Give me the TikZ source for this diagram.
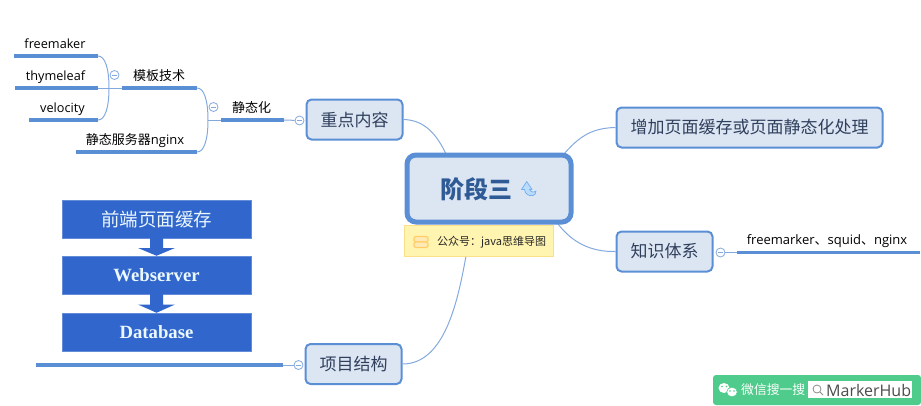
\documentclass[tikz,border=0pt]{standalone}
\usepackage{fontspec}
\setmainfont{Open Sans}
\newfontfamily\cjk{Noto Sans CJK SC}
\newfontfamily\serifb{Liberation Serif}
\definecolor{mmblue}{HTML}{5A8FD6}
\definecolor{mmfill}{HTML}{DCE5F2}
\definecolor{mmtext}{HTML}{2F3F5C}
\definecolor{mmtitle}{HTML}{2E5A96}
\definecolor{thinblue}{HTML}{84A9DE}
\definecolor{stackblue}{HTML}{3166CC}
\definecolor{notefill}{HTML}{FFF4B0}
\definecolor{noteline}{HTML}{FBE08A}
\definecolor{noteicon}{HTML}{FFCF66}
\definecolor{noteiconfill}{HTML}{FFE9B5}
\definecolor{greenbar}{HTML}{4FCB8B}
\definecolor{iconfill}{HTML}{BBDBFB}
\definecolor{iconline}{HTML}{6FAEF0}
\tikzset{
  x=1pt,y=-1pt,
  topic/.style={draw=mmblue,line width=2pt,fill=mmfill,rounded corners=5pt,text=mmtext,font=\cjk\fontsize{17}{19}\selectfont,inner sep=0pt,anchor=center},
  central/.style={draw=mmblue,line width=5pt,fill=mmfill,rounded corners=9pt,inner sep=0pt},
  thick line/.style={draw=mmblue,line width=3.1pt},
  thin line/.style={draw=thinblue,line width=1pt},
  label text/.style={font=\fontsize{12.7}{14}\selectfont,text=black,inner sep=0pt,anchor=base},
  collapse/.style={circle,draw=thinblue,fill=white,line width=.8pt,minimum size=9pt,inner sep=0pt,
    path picture={\draw[thinblue,line width=.8pt] ([xshift=-2.5pt]path picture bounding box.center) -- ([xshift=2.5pt]path picture bounding box.center);}},
  stackbox/.style={fill=stackblue,draw=stackblue!75!white,line width=.5pt,minimum width=189pt,minimum height=38pt,inner sep=0pt,text=white!92!cyan},
  stackarrow/.style={fill=stackblue,draw=none},
  noteicon/.style={draw=noteicon,fill=noteiconfill,line width=1.2pt,rounded corners=1.5pt},
}
\begin{document}
\begin{tikzpicture}
\useasboundingbox (0,0) rectangle (921,405);
% connectors from the central topic
\coordinate (cTL) at (446,154);
\coordinate (cTR) at (563,155);
\coordinate (cBR) at (558,224);
\coordinate (cB) at (466,256);
\node[topic,minimum width=96pt,minimum height=40pt] (key) at (354.5,119.5) {重点内容};
\node[topic,minimum width=266pt,minimum height=40pt] (add) at (749.5,127.5) {增加页面缓存或页面静态化处理};
\node[topic,minimum width=96pt,minimum height=40pt] (know) at (664.5,251.5) {知识体系};
\node[topic,minimum width=96pt,minimum height=40pt] (proj) at (353.5,364) {项目结构};
\draw[thin line] (key.east) .. controls (425,120) and (437,135) .. (cTL);
\draw[thin line] (add.west) .. controls (590,128) and (578,138) .. (cTR);
\draw[thin line] (know.west) .. controls (590,252) and (572,242) .. (cBR);
\draw[thin line] (proj.east) .. controls (445,364) and (458,300) .. (cB);
% central topic
\node[central,minimum width=164pt,minimum height=67pt] (center) at (489,188.5) {};
\node[font=\cjk\bfseries\fontsize{24}{26}\selectfont,text=mmtitle,inner sep=0pt] (ctitle) at (476,189) {阶段三};
% refresh icon
\fill[iconfill,draw=iconline,line width=.7pt,line join=round]
  (526.7,181.5) -- (521.5,189.5) -- (524.5,189.5) .. controls (525,194) and (529,196.5) .. (533,195.5)
  .. controls (535,195) and (536,193) .. (536,191) .. controls (534.5,192.5) and (530.5,192.5) .. (529.5,189.5)
  -- (532,189.5) -- cycle;
% note
\node[draw=noteline,fill=notefill,line width=.8pt,minimum width=149pt,minimum height=31pt,inner sep=0pt] (note) at (479,241) {};
\node[font=\cjk\fontsize{11}{12}\selectfont,inner sep=0pt,anchor=west,text=black!85] (notetext) at (437,242) {公众号：java思维导图};
\draw[noteicon] (414,236.5) rectangle (428,242);
\draw[noteicon] (414,242) rectangle (428,247.5);
% key branch
\coordinate (s1) at (284,120); \coordinate (s0) at (221,120);
\coordinate (m1) at (197,88); \coordinate (m0) at (122,88);
\coordinate (n1) at (197,152); \coordinate (n0) at (76,152);
\coordinate (f1) at (98,56); \coordinate (f0) at (14,56);
\coordinate (t1) at (98,88); \coordinate (t0) at (15,88);
\coordinate (v1) at (98,120); \coordinate (v0) at (29,120);
\node[collapse] (ck) at (299.5,120.5) {};
\node[collapse] (cs) at (213.5,107) {};
\node[collapse] (cm) at (114.5,75) {};
\draw[thin line] (ck) -- (s1);
\draw[thin line] (s0) -- (208,120);
\draw[thin line] (m1) .. controls (204,88) and (208,100) .. (208,120) .. controls (208,140) and (204,152) .. (n1);
\draw[thin line] (m0) -- (t1);
\draw[thin line] (f1) .. controls (105,56) and (109,68) .. (109,88) .. controls (109,108) and (105,120) .. (v1);
\draw[thick line] (s0) -- (s1);
\draw[thick line] (m0) -- (m1);
\draw[thick line] (n0) -- (n1);
\draw[thick line] (f0) -- (f1);
\draw[thick line] (t0) -- (t1);
\draw[thick line] (v0) -- (v1);
\node[label text,font=\cjk\fontsize{13}{14}\selectfont] (ls) at (251.5,112) {静态化};
\node[label text,font=\cjk\fontsize{13}{14}\selectfont] (lm) at (159,80) {模板技术};
\node[label text,font=\fontsize{13}{14}\selectfont] (ln) at (135,144) {{\cjk 静态服务器}nginx};
\node[label text] (lf) at (55,48) {freemaker};
\node[label text] (lt) at (55.5,80) {thymeleaf};
\node[label text] (lv) at (62.5,112) {velocity};
% knowledge branch
\coordinate (k0) at (737,252.5); \coordinate (k1) at (920,252.5);
\node[collapse] (ckn) at (720.5,252.5) {};
\draw[thin line] (ckn) -- (k0);
\draw[thick line] (k0) -- (k1);
\node[label text,font=\fontsize{13}{14}\selectfont] (lk) at (827,244) {freemarker{\cjk 、}squid{\cjk 、}nginx};
% project branch
\coordinate (p0) at (36,365); \coordinate (p1) at (283,365);
\node[collapse] (cp) at (298.5,365) {};
\draw[thin line] (cp) -- (p1);
\draw[thick line] (p0) -- (p1);
% stack
\node[stackbox] (fe) at (156.5,219) {\cjk\fontsize{18.5}{20}\selectfont 前端页面缓存};
\node[stackbox] (ws) at (156.5,275) {\serifb\bfseries\fontsize{18.7}{20}\selectfont Webserver};
\node[stackbox] (db) at (156.5,332) {\serifb\bfseries\fontsize{18.7}{20}\selectfont Database};
\fill[stackarrow] (150,238) -- (163,238) -- (163,248) -- (175,248) -- (ws.north) -- (138,248) -- (150,248) -- cycle;
\fill[stackarrow] (150,294) -- (163,294) -- (163,304.5) -- (175,304.5) -- (db.north) -- (138,304.5) -- (150,304.5) -- cycle;
% watermark
\fill[greenbar,rounded corners=3pt] (713,375) rectangle (921,405);
\fill[white] (808,381) rectangle (912,398);
\node[font=\cjk\fontsize{12.8}{14}\selectfont,text=white,inner sep=0pt,anchor=west] (wm1) at (741,390) {微信搜一搜};
\node[font=\fontsize{16}{17}\selectfont,text=black!70,inner sep=0pt,anchor=west] (wm2) at (826,390) {MarkerHub};
\draw[black!45,line width=.8pt] (817,389) circle (4pt) (820,392) -- (823,395);
\fill[white] (724,388) ellipse (5.5pt and 5pt);
\fill[greenbar] (722,386.5) circle (.9pt) (726.5,386.5) circle (.9pt);
\draw[fill=white,draw=greenbar,line width=.6pt] (732,392) ellipse (5.3pt and 4.8pt);
\fill[greenbar] (730,391) circle (.8pt) (734,391) circle (.8pt);
\end{tikzpicture}
\end{document}
